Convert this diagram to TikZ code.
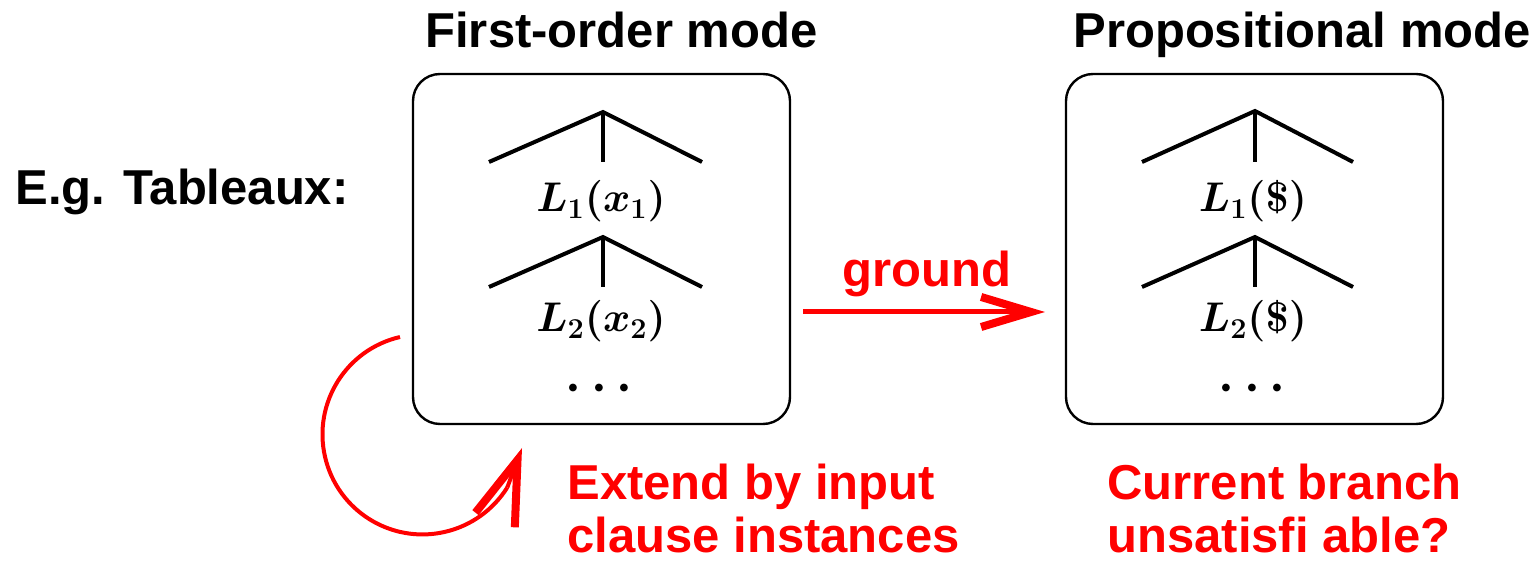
\documentclass[tikz,border=0pt]{standalone}
\usepackage[no-math]{fontspec}
\setmainfont{Liberation Sans}
\usetikzlibrary{arrows.meta}
\begin{document}
\begin{tikzpicture}[x=0.5pt,y=0.5pt,
  lbl/.style={font=\fontsize{24.5}{26.5}\selectfont\bfseries, inner sep=0pt, anchor=base west},
  redlbl/.style={lbl, text=red},
  mathlbl/.style={font=\fontsize{20}{22}\selectfont\boldmath, inner sep=0pt, anchor=base},
  dotslbl/.style={font=\fontsize{28}{30}\selectfont\boldmath, inner sep=0pt, anchor=base},
  modebox/.style={draw, line width=1.2pt, rounded corners=13.5pt, minimum width=188.5pt, minimum height=175pt, inner sep=0pt},
  treeline/.style={line width=2pt},
  redarrow/.style={draw=red, line width=2.5pt, -{Straight Barb[length=25pt, width=15pt, line width=4pt]}},
  redcurve/.style={draw=red, line width=2pt},
  loopedarrow/.style={draw=red, line width=2pt, -{Straight Barb[length=32pt, width=21pt, line width=4pt]}}
]
\useasboundingbox (0,0) rectangle (1533,-566);

% headings
\node[lbl] (h1) at (425,-48) {First-order mode};
\node[lbl] (h2) at (1073,-48) {Propositional mode};
\node[lbl] (eg) at (15,-205) {E.g. Tableaux:};

% boxes
\node[modebox] (fo) at (601.5,-249) {};
\node[modebox] (pr) at (1254.5,-249) {};

% left trees
\draw[treeline] (489,-162) -- (603,-112) -- (702,-162);
\draw[treeline] (603,-112) -- (603,-162);
\draw[treeline] (489,-287) -- (603,-237) -- (702,-287);
\draw[treeline] (603,-237) -- (603,-287);
\node[mathlbl] (l1) at (601,-212) {$L_1(x_1)$};
\node[mathlbl] (l2) at (601,-332) {$L_2(x_2)$};
\node[dotslbl] (d1) at (599,-401) {$\cdots$};

% right trees
\draw[treeline] (1142,-162) -- (1255,-111) -- (1353,-162);
\draw[treeline] (1255,-111) -- (1255,-162);
\draw[treeline] (1142,-287) -- (1255,-237) -- (1353,-287);
\draw[treeline] (1255,-237) -- (1255,-287);
\node[mathlbl] (r1) at (1253,-212) {$L_1(\$)$};
\node[mathlbl] (r2) at (1253,-332) {$L_2(\$)$};
\node[dotslbl] (d2) at (1252,-401) {$\cdots$};

% ground arrow
\coordinate (g1) at (803,-312);
\coordinate (g2) at (1045,-312);
\draw[redarrow] (g1) -- (g2);
\node[redlbl] (gl) at (842,-287) {ground};

% loop arrow
\coordinate (c0) at (400,-337);
\coordinate (ctip) at (522,-448);
\draw[redcurve] (c0) arc[start angle=103, end angle=328, radius=100] coordinate (c1);
\draw[loopedarrow] (c1) -- (ctip);

% red texts
\node[redlbl] (e1) at (567,-500) {Extend by input};
\node[redlbl] (e2) at (567,-553) {clause instances};
\node[redlbl] (u1) at (1107,-500) {Current branch};
\node[redlbl] (u2) at (1107,-553) {unsatisfi able?};
\end{tikzpicture}
\end{document}
